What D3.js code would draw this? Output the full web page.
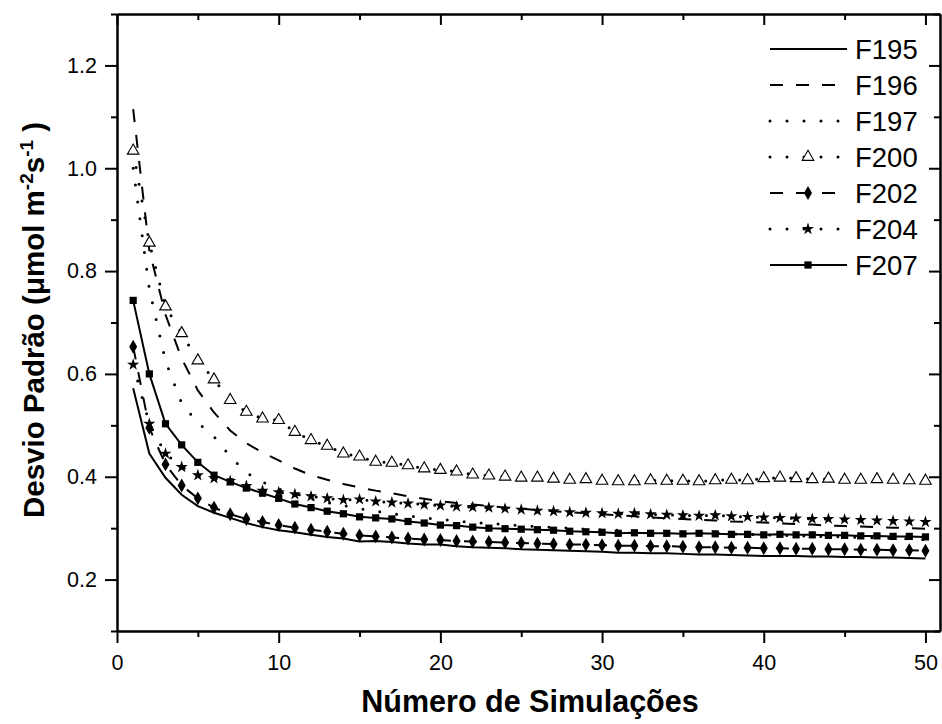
<!DOCTYPE html>
<html>
<head>
<meta charset="utf-8">
<script src="https://cdn.jsdelivr.net/npm/d3@7.9.0/dist/d3.min.js"></script>
<style>
  body { margin: 0; background: #fff; }
  svg { display: block; font-family: "Liberation Sans", Arial, sans-serif; }
</style>
</head>
<body>
<div id="chart"></div>
<script>
// simulations (x) and standard deviation per series (y)
const simulations = d3.range(1, 51);

const F195 = [0.572, 0.445, 0.398, 0.365, 0.343, 0.330, 0.320, 0.310, 0.302, 0.296,
  0.292, 0.287, 0.283, 0.280, 0.274, 0.275, 0.273, 0.270, 0.268, 0.268,
  0.265, 0.263, 0.262, 0.261, 0.259, 0.258, 0.257, 0.256, 0.255, 0.254,
  0.252, 0.252, 0.251, 0.251, 0.250, 0.249, 0.249, 0.248, 0.247, 0.246,
  0.246, 0.246, 0.245, 0.245, 0.244, 0.244, 0.243, 0.243, 0.242, 0.241];

const F196 = [1.115, 0.840, 0.715, 0.630, 0.568, 0.525, 0.490, 0.465, 0.447, 0.432,
  0.416, 0.403, 0.394, 0.386, 0.379, 0.373, 0.368, 0.362, 0.357, 0.352,
  0.349, 0.346, 0.343, 0.340, 0.338, 0.335, 0.333, 0.331, 0.329, 0.327,
  0.325, 0.323, 0.321, 0.319, 0.318, 0.316, 0.315, 0.313, 0.312, 0.311,
  0.309, 0.308, 0.307, 0.305, 0.304, 0.303, 0.302, 0.301, 0.300, 0.299];

const F197 = [1.000, 0.765, 0.625, 0.543, 0.505, 0.478, 0.440, 0.408, 0.390, 0.376,
  0.366, 0.357, 0.350, 0.344, 0.338, 0.333, 0.328, 0.324, 0.320, 0.317,
  0.314, 0.311, 0.309, 0.307, 0.305, 0.303, 0.301, 0.300, 0.298, 0.297,
  0.296, 0.295, 0.294, 0.293, 0.292, 0.291, 0.290, 0.289, 0.288, 0.287,
  0.286, 0.285, 0.284, 0.284, 0.283, 0.282, 0.281, 0.280, 0.279, 0.278];

const F200 = [1.034, 0.855, 0.731, 0.679, 0.626, 0.589, 0.549, 0.526, 0.513, 0.510,
  0.487, 0.471, 0.460, 0.445, 0.439, 0.429, 0.427, 0.422, 0.416, 0.413,
  0.410, 0.404, 0.402, 0.400, 0.398, 0.398, 0.396, 0.394, 0.395, 0.392,
  0.391, 0.391, 0.393, 0.392, 0.392, 0.391, 0.393, 0.394, 0.393, 0.397,
  0.398, 0.397, 0.395, 0.396, 0.394, 0.394, 0.395, 0.394, 0.393, 0.392];

const F202 = [0.653, 0.495, 0.424, 0.383, 0.358, 0.340, 0.327, 0.318, 0.312, 0.306,
  0.301, 0.297, 0.293, 0.289, 0.286, 0.284, 0.282, 0.280, 0.278, 0.277,
  0.275, 0.274, 0.273, 0.272, 0.271, 0.270, 0.269, 0.268, 0.268, 0.267,
  0.266, 0.266, 0.265, 0.265, 0.264, 0.263, 0.263, 0.262, 0.262, 0.261,
  0.261, 0.260, 0.260, 0.259, 0.259, 0.258, 0.258, 0.257, 0.257, 0.256];

const F204 = [0.618, 0.503, 0.445, 0.419, 0.403, 0.397, 0.392, 0.382, 0.373, 0.370,
  0.366, 0.362, 0.358, 0.355, 0.356, 0.352, 0.350, 0.348, 0.346, 0.344,
  0.342, 0.341, 0.340, 0.338, 0.336, 0.334, 0.333, 0.331, 0.330, 0.329,
  0.328, 0.329, 0.327, 0.326, 0.325, 0.324, 0.325, 0.323, 0.322, 0.321,
  0.320, 0.319, 0.318, 0.318, 0.317, 0.316, 0.315, 0.314, 0.313, 0.312];

const F207 = [0.743, 0.600, 0.503, 0.462, 0.428, 0.403, 0.390, 0.378, 0.368, 0.358,
  0.347, 0.340, 0.333, 0.328, 0.322, 0.320, 0.318, 0.313, 0.310, 0.306,
  0.305, 0.302, 0.300, 0.299, 0.298, 0.297, 0.296, 0.294, 0.293, 0.292,
  0.290, 0.291, 0.290, 0.290, 0.289, 0.290, 0.289, 0.288, 0.288, 0.287,
  0.288, 0.287, 0.287, 0.286, 0.286, 0.285, 0.285, 0.284, 0.284, 0.283];

const xMajor = [0, 10, 20, 30, 40, 50];
const xMinor = [5, 15, 25, 35, 45];
const yMajor = [0.2, 0.4, 0.6, 0.8, 1.0, 1.2];
const yMinor = [0.1, 0.3, 0.5, 0.7, 0.9, 1.1, 1.3];

// line style + marker per series
const series = [
  { name: "F195", values: F195, dash: null, marker: null },
  { name: "F196", values: F196, dash: "13,13", marker: null },
  { name: "F197", values: F197, dash: "0,17", marker: null },
  { name: "F200", values: F200, dash: "0,17", marker: "triangle" },
  { name: "F202", values: F202, dash: "13,13", marker: "diamond" },
  { name: "F204", values: F204, dash: "0,17", marker: "star" },
  { name: "F207", values: F207, dash: null, marker: "square" }
];

const W = 942, H = 724;
const L = 117, R = 940, T = 14, B = 631;
const FONT = '"Liberation Sans", Arial, sans-serif';

const svg = d3.select("#chart").append("svg")
  .attr("width", W).attr("height", H);

const x = d3.scaleLinear().domain([0, 50.9]).range([L, R]);
const y = d3.scaleLinear().domain([0.1, 1.3]).range([B, T]);

const symbols = {
  triangle: d3.symbol(d3.symbolTriangle, 58),
  diamond: d3.symbol(d3.symbolDiamond, 56),
  star: d3.symbol(d3.symbolStar, 46),
  square: d3.symbol(d3.symbolSquare, 52)
};

function styleAxis(g) {
  g.attr("font-family", FONT);
  g.selectAll(".domain").attr("stroke-width", 2);
  g.selectAll(".tick line").attr("stroke-width", 2);
  g.selectAll(".tick text").attr("font-size", 21.5).attr("fill", "#000");
}

// bottom axis
svg.append("g").attr("transform", `translate(0,${B})`)
  .call(d3.axisBottom(x).tickValues(xMajor).tickSize(12).tickSizeOuter(0).tickPadding(12))
  .call(styleAxis);
svg.append("g").attr("transform", `translate(0,${B})`)
  .call(d3.axisBottom(x).tickValues(xMinor).tickSize(6).tickSizeOuter(0).tickFormat(""))
  .call(styleAxis);

// left axis
svg.append("g").attr("transform", `translate(${L},0)`)
  .call(d3.axisLeft(y).tickValues(yMajor).tickSize(12).tickSizeOuter(0).tickPadding(8).tickFormat(d3.format(".1f")))
  .call(styleAxis);
svg.append("g").attr("transform", `translate(${L},0)`)
  .call(d3.axisLeft(y).tickValues(yMinor).tickSize(6).tickSizeOuter(0).tickFormat(""))
  .call(styleAxis);

// top and right frame, ticks pointing in
svg.append("g").attr("transform", `translate(0,${T})`)
  .call(d3.axisBottom(x).tickValues(xMajor).tickSize(11).tickSizeOuter(0).tickFormat(""))
  .call(styleAxis);
svg.append("g").attr("transform", `translate(0,${T})`)
  .call(d3.axisBottom(x).tickValues(xMinor).tickSize(6).tickSizeOuter(0).tickFormat(""))
  .call(styleAxis);
svg.append("g").attr("transform", `translate(${R},0)`)
  .call(d3.axisLeft(y).tickValues(yMajor).tickSize(11).tickSizeOuter(0).tickFormat(""))
  .call(styleAxis);
svg.append("g").attr("transform", `translate(${R},0)`)
  .call(d3.axisLeft(y).tickValues(yMinor).tickSize(6).tickSizeOuter(0).tickFormat(""))
  .call(styleAxis);

// lines
const line = d3.line().x((d, i) => x(simulations[i])).y(d => y(d));

const plot = svg.append("g");
series.forEach(s => {
  plot.append("path")
    .datum(s.values)
    .attr("d", line)
    .attr("fill", "none")
    .attr("stroke", "#000")
    .attr("stroke-width", s.dash === "0,17" ? 3 : 2)
    .attr("stroke-linecap", s.dash === "0,17" ? "round" : "butt")
    .attr("stroke-dasharray", s.dash);
});

// markers
series.filter(s => s.marker).forEach(s => {
  plot.append("g").selectAll("path")
    .data(s.values)
    .join("path")
    .attr("transform", (d, i) => `translate(${x(simulations[i])},${y(d)})`)
    .attr("d", symbols[s.marker])
    .attr("fill", s.marker === "triangle" ? "#fff" : "#000")
    .attr("stroke", "#000")
    .attr("stroke-width", s.marker === "triangle" ? 1.1 : 0);
});

// legend
const legend = svg.append("g").attr("transform", "translate(770,49)");
series.forEach((s, i) => {
  const g = legend.append("g").attr("transform", `translate(0,${i * 36})`);
  g.append("line")
    .attr("x1", 0).attr("x2", 77)
    .attr("stroke", "#000")
    .attr("stroke-width", s.dash === "0,17" ? 3 : 2)
    .attr("stroke-linecap", s.dash === "0,17" ? "round" : "butt")
    .attr("stroke-dasharray", s.dash);
  if (s.marker) {
    g.append("path")
      .attr("transform", "translate(38,0)")
      .attr("d", symbols[s.marker])
      .attr("fill", s.marker === "triangle" ? "#fff" : "#000")
      .attr("stroke", "#000")
      .attr("stroke-width", s.marker === "triangle" ? 1.1 : 0);
  }
  g.append("text")
    .attr("x", 85).attr("y", 9.5)
    .attr("font-size", 27.5)
    .text(s.name);
});

// axis titles
svg.append("text")
  .attr("x", 530).attr("y", 712)
  .attr("text-anchor", "middle")
  .attr("font-size", 30.5)
  .attr("font-weight", "bold")
  .text("Número de Simulações");

const yt = svg.append("text")
  .attr("transform", "translate(44,320) rotate(-90)")
  .attr("text-anchor", "middle")
  .attr("font-size", 29.5)
  .attr("font-weight", "bold");
yt.append("tspan").text("Desvio Padrão (μmol m");
yt.append("tspan").attr("font-size", 19).attr("dy", -11).text("-2");
yt.append("tspan").attr("dy", 11).text("s");
yt.append("tspan").attr("font-size", 19).attr("dy", -11).text("-1");
yt.append("tspan").attr("dy", 11).text(" )");
</script>
</body>
</html>
